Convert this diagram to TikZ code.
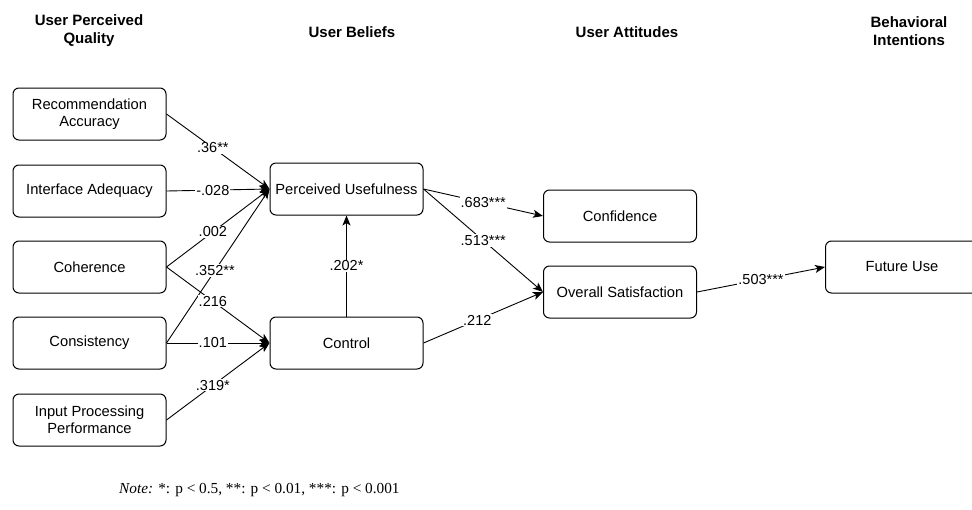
\documentclass[tikz,border=0pt]{standalone}
\usepackage{fontspec}
\setmainfont{Liberation Sans}
\newfontfamily\timesf{Liberation Serif}
\usetikzlibrary{arrows.meta}
\begin{document}
\begin{tikzpicture}[x=1pt,y=-1pt,
 box/.style={draw, rounded corners=6pt, minimum width=153pt, minimum height=52pt, align=center, font=\fontsize{14.7}{17}\selectfont, line width=1pt, inner sep=2pt},
 hdr/.style={align=center, font=\fontsize{15}{18}\selectfont\bfseries},
 lbl/.style={fill=white, inner sep=1pt, font=\fontsize{14.5}{16}\selectfont},
 arr/.style={-{Stealth[length=10pt,width=8pt,inset=2.5pt]}, line width=0.9pt}]
\useasboundingbox (0,0) rectangle (972,509);
\node[hdr] (h1) at (89,31) {User Perceived\\Quality};
\node[hdr] (h2) at (352,32) {User Beliefs};
\node[hdr] (h3) at (627,32) {User Attitudes};
\node[hdr] (h4) at (909,31) {Behavioral\\Intentions};
\node[box] (ra) at (89.5,114) {Recommendation\\Accuracy};
\node[box] (ia) at (89.5,191) {Interface Adequacy};
\node[box] (coh) at (89.5,267) {Coherence};
\node[box] (con) at (89.5,343) {Consistency};
\node[box] (ipp) at (89.5,420) {Input Processing\\Performance};
\node[box] (pu) at (346.5,189) {Perceived Usefulness};
\node[box] (ctl) at (346.5,343) {Control};
\node[box] (cnf) at (620,216) {Confidence};
\node[box] (os) at (620,292) {Overall Satisfaction};
\node[box] (fu) at (902,267) {Future Use};
\draw[arr] (ra.east) -- node[lbl, pos=0.45]{.36**} (pu.west);
\draw[arr] (ia.east) -- node[lbl, pos=0.45]{-.028} (pu.west);
\draw[arr] (coh.east) -- node[lbl, pos=0.45]{.002} (pu.west);
\draw[arr] (con.east) -- node[lbl, pos=0.47]{.352**} (pu.west);
\draw[arr] (coh.east) -- node[lbl, pos=0.45]{.216} (ctl.west);
\draw[arr] (con.east) -- node[lbl, pos=0.45]{.101} (ctl.west);
\draw[arr] (ipp.east) -- node[lbl, pos=0.45]{.319*} (ctl.west);
\draw[arr] (ctl.north) -- node[lbl]{.202*} (pu.south);
\draw[arr] (pu.east) -- node[lbl, pos=0.5]{.683***} (cnf.west);
\draw[arr] (pu.east) -- node[lbl, pos=0.5]{.513***} (os.west);
\draw[arr] (ctl.east) -- node[lbl, pos=0.45]{.212} (os.west);
\draw[arr] (os.east) -- node[lbl, pos=0.5]{.503***} (fu.west);
\node[anchor=west, font=\timesf\fontsize{15.3}{18}\selectfont, inner sep=0pt] (note) at (119,490) {\textit{Note:} *: p < 0.5, **: p < 0.01, ***: p < 0.001};
\end{tikzpicture}
\end{document}
